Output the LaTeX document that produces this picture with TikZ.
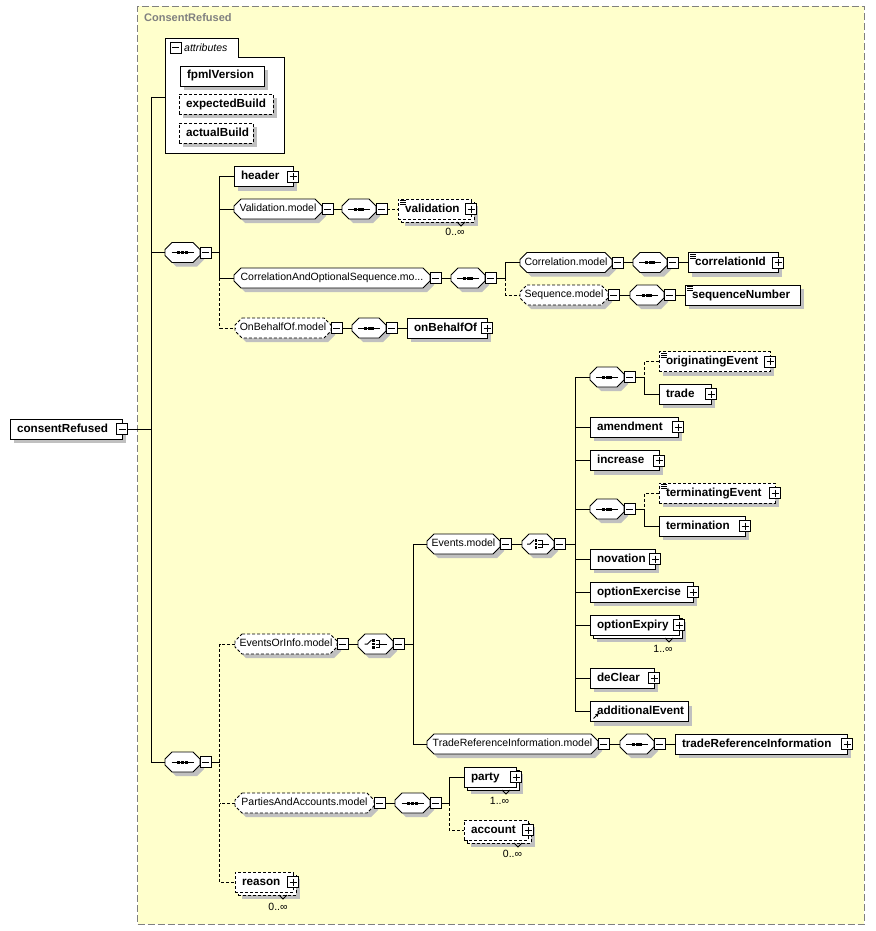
\documentclass[tikz,border=0pt]{standalone}
\usepackage{fontspec}
\setmainfont{Liberation Sans}
\usetikzlibrary{shadows,calc,arrows.meta}
\definecolor{bgy}{RGB}{255,255,204}
\definecolor{frm}{RGB}{128,128,128}
\definecolor{shd}{RGB}{192,192,192}
\makeatletter
\newdimen\ocxa \newdimen\ocya \newdimen\ocxb \newdimen\ocyb
\pgfdeclareshape{octo}{%
  \inheritsavedanchors[from=rectangle]%
  \inheritanchorborder[from=rectangle]%
  \inheritanchor[from=rectangle]{center}%
  \inheritanchor[from=rectangle]{north}%
  \inheritanchor[from=rectangle]{south}%
  \inheritanchor[from=rectangle]{west}%
  \inheritanchor[from=rectangle]{east}%
  \inheritanchor[from=rectangle]{north west}%
  \inheritanchor[from=rectangle]{north east}%
  \inheritanchor[from=rectangle]{south west}%
  \inheritanchor[from=rectangle]{south east}%
  \backgroundpath{%
    \southwest \ocxa=\pgf@x \ocya=\pgf@y
    \northeast \ocxb=\pgf@x \ocyb=\pgf@y
    \pgfpathmoveto{\pgfpoint{\dimexpr\ocxa+7pt\relax}{\ocyb}}%
    \pgfpathlineto{\pgfpoint{\dimexpr\ocxb-7pt\relax}{\ocyb}}%
    \pgfpathlineto{\pgfpoint{\ocxb}{\dimexpr\ocyb-7pt\relax}}%
    \pgfpathlineto{\pgfpoint{\ocxb}{\dimexpr\ocya+7pt\relax}}%
    \pgfpathlineto{\pgfpoint{\dimexpr\ocxb-7pt\relax}{\ocya}}%
    \pgfpathlineto{\pgfpoint{\dimexpr\ocxa+7pt\relax}{\ocya}}%
    \pgfpathlineto{\pgfpoint{\ocxa}{\dimexpr\ocya+7pt\relax}}%
    \pgfpathlineto{\pgfpoint{\ocxa}{\dimexpr\ocyb-7pt\relax}}%
    \pgfpathclose
  }%
}
\makeatother
\tikzset{
  ln/.style={line width=.9pt},
  dsh/.style={dash pattern=on 3pt off 2pt},
  shad/.style={drop shadow={shadow xshift=4pt, shadow yshift=-4pt, fill=shd, opacity=1}},
  el/.style={rectangle, draw, fill=white, ln, anchor=west, minimum height=20pt,
    inner xsep=7pt, inner ysep=0pt, outer sep=0pt, text height=8.5pt, text depth=2.5pt,
    font=\fontsize{11.7}{13}\selectfont\bfseries},
  bw/.style={minimum width=#1pt,
    execute at begin node={\hbox to \dimexpr#1pt-14pt\relax\bgroup},
    execute at end node={\hss\egroup}},
  grp/.style={octo, draw, fill=white, ln, anchor=west, minimum height=20pt,
    inner xsep=3pt, inner ysep=0pt, outer sep=0pt, text height=8pt, text depth=2.5pt,
    font=\fontsize{10.5}{12}\selectfont},
  gw/.style={minimum width=#1pt},
  sqicon/.style={path picture={
    \draw[black, line width=1pt, solid] ([xshift=-11pt]path picture bounding box.center) -- ([xshift=11pt]path picture bounding box.center);
    \fill[black] ([xshift=-5.1pt,yshift=-1.5pt]path picture bounding box.center) rectangle ++(3pt,3pt);
    \fill[black] ([xshift=-1.5pt,yshift=-1.5pt]path picture bounding box.center) rectangle ++(3pt,3pt);
    \fill[black] ([xshift=2.1pt,yshift=-1.5pt]path picture bounding box.center) rectangle ++(3pt,3pt);
  }},
  chicon/.style={path picture={
    \draw[black, line width=1pt, solid] ([xshift=-11pt]path picture bounding box.center) -- ([xshift=-8pt]path picture bounding box.center) -- ([xshift=-4pt,yshift=4pt]path picture bounding box.center);
    \fill[black] ([xshift=-3.2pt,yshift=-4.8pt]path picture bounding box.center) rectangle ++(2.6pt,2.6pt);
    \fill[black] ([xshift=-3.2pt,yshift=-1.3pt]path picture bounding box.center) rectangle ++(2.6pt,2.6pt);
    \fill[black] ([xshift=-3.2pt,yshift=2.2pt]path picture bounding box.center) rectangle ++(2.6pt,2.6pt);
    \draw[black, line width=1pt, solid] ([xshift=0pt,yshift=3.5pt]path picture bounding box.center) -- ([xshift=4pt,yshift=3.5pt]path picture bounding box.center) -- ([xshift=4pt,yshift=-3.5pt]path picture bounding box.center) -- ([xshift=0pt,yshift=-3.5pt]path picture bounding box.center);
    \draw[black, line width=1pt, solid] (path picture bounding box.center) -- ([xshift=11pt]path picture bounding box.center);
  }},
  sq/.style={grp, sqicon, gw=35},
  ch/.style={grp, chicon, gw=34},
  pm/.style={rectangle, draw, fill=white, line width=.9pt, minimum size=11pt, inner sep=0pt, outer sep=0pt},
  mn/.style={pm, path picture={
    \draw[black, line width=.9pt] ([xshift=2pt]path picture bounding box.west) -- ([xshift=-2pt]path picture bounding box.east);}},
  pl/.style={pm, path picture={
    \draw[black, line width=.9pt] ([xshift=2pt]path picture bounding box.west) -- ([xshift=-2pt]path picture bounding box.east);
    \draw[black, line width=.9pt] ([yshift=-2pt]path picture bounding box.north) -- ([yshift=2pt]path picture bounding box.south);}},
  occ/.style={inner sep=0pt, font=\fontsize{10.5}{12}\selectfont},
}
\newcommand\stIcon[1]{\foreach \d in {1.5,3.5,5.5}{\draw[line width=.8pt] ($(#1.north west)+(2,\d)$) -- ++(6,0);}}
\newcommand\notchV[1]{\draw[ln] ($(#1.south east)+(-17,0)$) -- ++(4,4) -- ++(4,-4);}
\begin{document}
\begin{tikzpicture}[x=1pt,y=-1pt]
\useasboundingbox (0,0) rectangle (875,931);
% frame
\node[draw=frm, fill=bgy, line width=.9pt, dash pattern=on 7pt off 3pt, rectangle, anchor=north west,
  minimum width=726.5pt, minimum height=918pt, inner sep=0pt, outer sep=0pt] (frame) at (137.5,6) {};
\node[anchor=west, inner sep=0pt, text=frm, font=\fontsize{11}{13}\selectfont\bfseries] (title) at (144,18) {ConsentRefused};
% root
\node[el, bw=112, shad] (cr) at (10,429) {consentRefused};
\node[mn] (crm) at (cr.east) {};
\coordinate (tA) at (151,97);
\coordinate (tB) at (151,762);
\coordinate (attin) at (165,97);
% attributes
\path[draw, fill=white, ln] (165,153) -- (165,38) -- (238,38) -- (238,57) -- (284,57) -- (284,153) -- cycle;
\node[mn] (attm) at (175.5,47.5) {};
\node[anchor=west, inner sep=0pt, font=\fontsize{10.5}{12}\selectfont\itshape] (attl) at (184,47.5) {attributes};
\node[el, bw=84, shad] (fv) at (180,76) {fpmlVersion};
\node[el, dsh, bw=94, shad] (eb) at (179,104.5) {expectedBuild};
\node[el, dsh, bw=74, shad] (ab) at (179,133) {actualBuild};
% sequence A
\node[sq, shad] (sA) at (165,252.5) {};
\node[mn, anchor=west] (sAm) at (sA.east) {};
\coordinate (vA) at (219.5,0);
\node[el, bw=59, shad] (hdr) at (234,176.5) {header};
\node[pl] (hdrp) at (hdr.east) {};
\node[grp, gw=88, shad] (vm) at (234,209) {Validation.model};
\node[mn, anchor=west] (vmm) at (vm.east) {};
\node[sq, gw=34, shad] (vs) at (342,209) {};
\node[mn, anchor=west] (vsm) at (vs.east) {};
\node[el, dsh, bw=73, shad] (valb) at (401,212) {};
\node[el, dsh, bw=73] (val) at (398,209) {validation};
\node[pl] (valp) at (val.east) {};
\stIcon{val}
\notchV{valb}
\node[occ] (valo) at (455,232) {0..∞};
\node[grp, gw=196, shad] (cos) at (234,278) {CorrelationAndOptionalSequence.mo...};
\node[mn, anchor=west] (cosm) at (cos.east) {};
\node[sq, gw=34, shad] (cs) at (451,278) {};
\node[mn, anchor=west] (csm) at (cs.east) {};
\coordinate (vC) at (505.5,0);
\node[grp, gw=92, shad] (corm) at (520,262.5) {Correlation.model};
\node[mn, anchor=west] (cormm) at (corm.east) {};
\node[sq, gw=34, shad] (cors) at (633,262.5) {};
\node[mn, anchor=west] (corsm) at (cors.east) {};
\node[el, bw=90, shad] (cid) at (688,262.5) {correlationId};
\node[pl] (cidp) at (cid.east) {};
\stIcon{cid}
\node[grp, dsh, gw=88, shad] (sqm) at (520,295) {Sequence.model};
\node[mn, anchor=west] (sqmm) at (sqm.east) {};
\node[sq, gw=34, shad] (sqs) at (630,295) {};
\node[mn, anchor=west] (sqsm) at (sqs.east) {};
\node[el, bw=115, shad] (sn) at (685,295) {sequenceNumber};
\stIcon{sn}
\node[grp, dsh, gw=96, shad] (obm) at (235,328) {OnBehalfOf.model};
\node[mn, anchor=west] (obmm) at (obm.east) {};
\node[sq, gw=34, shad] (obs) at (352,328) {};
\node[mn, anchor=west] (obsm) at (obs.east) {};
\node[el, bw=80, shad] (obo) at (407,328) {onBehalfOf};
\node[pl] (obop) at (obo.east) {};
% sequence B
\node[sq, shad] (sB) at (165,762) {};
\node[mn, anchor=west] (sBm) at (sB.east) {};
\node[grp, dsh, gw=102, shad] (eim) at (235,644) {EventsOrInfo.model};
\node[mn, anchor=west] (eimm) at (eim.east) {};
\node[ch, gw=35, shad] (eich) at (358,644) {};
\node[mn, anchor=west] (eichm) at (eich.east) {};
\coordinate (vD) at (413,0);
\node[grp, gw=73, shad] (evm) at (427,544) {Events.model};
\node[mn, anchor=west] (evmm) at (evm.east) {};
\node[ch, gw=32, shad] (evch) at (522,544) {};
\node[mn, anchor=west] (evchm) at (evch.east) {};
\coordinate (vE) at (575,0);
\node[sq, gw=34, shad] (es1) at (590,377) {};
\node[mn, anchor=west] (es1m) at (es1.east) {};
\coordinate (vF) at (644.5,0);
\node[el, dsh, bw=111, shad] (oe) at (659,361.5) {originatingEvent};
\node[pl] (oep) at (oe.east) {};
\stIcon{oe}
\node[el, bw=52, shad] (trd) at (659,394) {trade};
\node[pl] (trdp) at (trd.east) {};
\node[el, bw=88, shad] (amd) at (590,427) {amendment};
\node[pl] (amdp) at (amd.east) {};
\node[el, bw=69, shad] (inc) at (590,460.5) {increase};
\node[pl] (incp) at (inc.east) {};
\node[sq, gw=34, shad] (es2) at (590,509) {};
\node[mn, anchor=west] (es2m) at (es2.east) {};
\node[el, dsh, bw=116, shad] (te) at (659,493) {terminatingEvent};
\node[pl] (tep) at (te.east) {};
\stIcon{te}
\node[el, bw=86, shad] (tm) at (659,526) {termination};
\node[pl] (tmp) at (tm.east) {};
\node[el, bw=65, shad] (nov) at (590,559) {novation};
\node[pl] (novp) at (nov.east) {};
\node[el, bw=103, shad] (oex) at (590,592) {optionExercise};
\node[pl] (oexp) at (oex.east) {};
\node[el, bw=89, shad] (oxpb) at (593,628) {};
\node[el, bw=89] (oxp) at (590,625) {optionExpiry};
\node[pl] (oxpp) at (oxp.east) {};
\notchV{oxpb}
\node[occ] (oxpo) at (663,649) {1..∞};
\node[el, bw=64, shad] (dcl) at (590,678) {deClear};
\node[pl] (dclp) at (dcl.east) {};
\node[el, bw=98, shad] (ae) at (590,711.5) {additionalEvent};
\draw[line width=.9pt, -{Triangle[length=3pt,width=3.5pt]}] ($(ae.south west)+(3.5,-3)$) -- ++(5,-5);
\node[grp, gw=171, shad] (trm) at (427,744) {TradeReferenceInformation.model};
\node[mn, anchor=west] (trmm) at (trm.east) {};
\node[sq, gw=34, shad] (trs) at (620,744) {};
\node[mn, anchor=west] (trsm) at (trs.east) {};
\node[el, bw=172, shad] (tri) at (675,744) {tradeReferenceInformation};
\node[pl] (trip) at (tri.east) {};
\node[grp, dsh, gw=139, shad] (pam) at (235,803) {PartiesAndAccounts.model};
\node[mn, anchor=west] (pamm) at (pam.east) {};
\node[sq, shad] (pas) at (395,803) {};
\node[mn, anchor=west] (pasm) at (pas.east) {};
\coordinate (vG) at (449,0);
\node[el, bw=52, shad] (ptyb) at (467,780) {};
\node[el, bw=52] (pty) at (464,777) {party};
\node[pl] (ptyp) at (pty.east) {};
\notchV{ptyb}
\node[occ] (ptyo) at (499.5,801) {1..∞};
\node[el, dsh, bw=64, shad] (accb) at (467,833) {};
\node[el, dsh, bw=64] (acc) at (464,830) {account};
\node[pl] (accp) at (acc.east) {};
\notchV{accb}
\node[occ] (acco) at (512.5,854) {0..∞};
\node[el, dsh, bw=58, shad] (rsnb) at (238,885) {};
\node[el, dsh, bw=58] (rsn) at (235,882) {reason};
\node[pl] (rsnp) at (rsn.east) {};
\notchV{rsnb}
\node[occ] (rsno) at (278,907) {0..∞};
% connectors
\draw[ln] (tA) -- (tB);
\draw[ln] (crm.east) -- (crm.east -| tA);
\draw[ln] (tA) -- (attin);
\draw[ln] (sA.west) -- (sA.west -| tA);
\draw[ln] (sB.west) -- (sB.west -| tA);
\draw[ln] (sAm.east) -- (sAm.east -| vA);
\draw[ln] (hdr.west) -| (cos.west -| vA) -- (cos.west);
\draw[ln] (vm.west) -- (vm.west -| vA);
\draw[ln, dsh] (cos.west -| vA) |- (obm.west);
\draw[ln] (vmm.east) -- (vs.west);
\draw[ln, dsh] (vsm.east) -- (val.west);
\draw[ln] (cosm.east) -- (cs.west);
\draw[ln] (csm.east) -- (csm.east -| vC);
\draw[ln] (corm.west) -| (csm.east -| vC);
\draw[ln, dsh] (csm.east -| vC) |- (sqm.west);
\draw[ln] (cormm.east) -- (cors.west);
\draw[ln] (corsm.east) -- (cid.west);
\draw[ln] (sqmm.east) -- (sqs.west);
\draw[ln] (sqsm.east) -- (sn.west);
\draw[ln] (obmm.east) -- (obs.west);
\draw[ln] (obsm.east) -- (obo.west);
\draw[ln] (sBm.east) -- (sBm.east -| vA);
\draw[ln, dsh] (eim.west) -| (rsn.west -| vA) -- (rsn.west);
\draw[ln, dsh] (pam.west) -- (pam.west -| vA);
\draw[ln] (eimm.east) -- (eich.west);
\draw[ln] (eichm.east) -- (eichm.east -| vD);
\draw[ln] (evm.west) -| (trm.west -| vD) -- (trm.west);
\draw[ln] (evmm.east) -- (evch.west);
\draw[ln] (evchm.east) -- (evchm.east -| vE);
\draw[ln] (es1.west) -| (ae.west -| vE) -- (ae.west);
\draw[ln] (amd.west) -- (amd.west -| vE);
\draw[ln] (inc.west) -- (inc.west -| vE);
\draw[ln] (es2.west) -- (es2.west -| vE);
\draw[ln] (nov.west) -- (nov.west -| vE);
\draw[ln] (oex.west) -- (oex.west -| vE);
\draw[ln] (oxp.west) -- (oxp.west -| vE);
\draw[ln] (dcl.west) -- (dcl.west -| vE);
\draw[ln] (es1m.east) -- (es1m.east -| vF);
\draw[ln, dsh] (oe.west) -| (es1m.east -| vF);
\draw[ln] (es1m.east -| vF) |- (trd.west);
\draw[ln] (es2m.east) -- (es2m.east -| vF);
\draw[ln, dsh] (te.west) -| (es2m.east -| vF);
\draw[ln] (es2m.east -| vF) |- (tm.west);
\draw[ln] (trmm.east) -- (trs.west);
\draw[ln] (trsm.east) -- (tri.west);
\draw[ln] (pamm.east) -- (pas.west);
\draw[ln] (pasm.east) -- (pasm.east -| vG);
\draw[ln] (pty.west) -| (pasm.east -| vG);
\draw[ln, dsh] (pasm.east -| vG) |- (acc.west);
\end{tikzpicture}
\end{document}
